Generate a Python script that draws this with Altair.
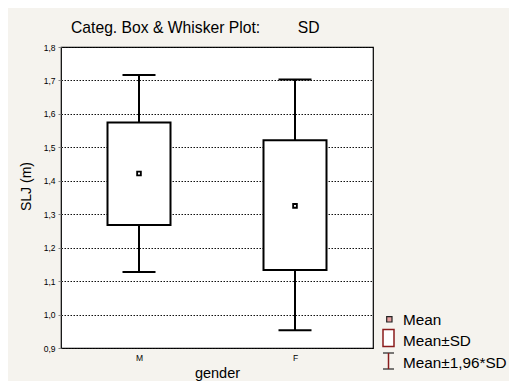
import altair as alt
import pandas as pd

# ---- data ----
genders = ["M", "F"]
means = [1.422, 1.325]
box_low = [1.268, 1.133]      # Mean - SD
box_high = [1.574, 1.521]     # Mean + SD
whisk_low = [1.127, 0.953]    # Mean - 1.96*SD
whisk_high = [1.716, 1.703]   # Mean + 1.96*SD
y_ticks = [0.9, 1.0, 1.1, 1.2, 1.3, 1.4, 1.5, 1.6, 1.7, 1.8]
legend_labels = ["Mean", "Mean±SD", "Mean±1,96*SD"]

df = pd.DataFrame({
    "gender": genders,
    "mean": means,
    "lo": box_low,
    "hi": box_high,
    "wlo": whisk_low,
    "whi": whisk_high,
})

FONT = "Liberation Sans"
x_enc = alt.X(
    "gender:N",
    sort=genders,
    scale=alt.Scale(type="point", padding=0.5),
    axis=alt.Axis(
        title="gender", labelAngle=0, labelFontSize=8.5, labelFont=FONT,
        labelColor="#000", labelPadding=5, ticks=False, domain=False,
        titleFont=FONT, titleFontSize=14.5, titleFontWeight="normal",
        titleColor="#000", titleY=29, titleBaseline="alphabetic",
        grid=False,
    ),
)
y_scale = alt.Scale(domain=[0.9, 1.8], nice=False, zero=False)
y_axis = alt.Axis(
    title="SLJ (m)", values=y_ticks, labelOverlap=False,
    labelExpr="replace(format(datum.value, '.1f'), '.', ',')",
    labelFont=FONT, labelFontSize=8.5, labelColor="#000", labelPadding=3,
    tickSize=3, tickColor="#888", domain=False,
    grid=True, gridColor="#111", gridDash=[1.5, 1.5], gridWidth=1, gridOpacity=1,
    titleFont=FONT, titleFontSize=14, titleFontWeight="normal", titleColor="#000",
    titleAngle=270, titleX=-35, titleY=139, titleAlign="center",
    titleBaseline="middle",
)

def Y(field):
    return alt.Y(field, scale=y_scale, axis=y_axis)

base = alt.Chart(df)

whiskers = base.mark_rule(color="#000", strokeWidth=2).encode(
    x=x_enc, y=Y("wlo:Q"), y2="whi:Q",
)
boxes = base.mark_bar(fill="white", stroke="#000", strokeWidth=2, size=63).encode(
    x=x_enc, y=Y("lo:Q"), y2="hi:Q"
)
cap_lo = base.mark_tick(color="#000", size=33, thickness=2, opacity=1).encode(
    x=x_enc, y=Y("wlo:Q")
)
cap_hi = base.mark_tick(color="#000", size=33, thickness=2, opacity=1).encode(
    x=x_enc, y=Y("whi:Q")
)
mean_pt = base.mark_square(fill="#fff", size=14, opacity=1, stroke="#000",
                           strokeWidth=1.8, filled=False).encode(
    x=x_enc, y=Y("mean:Q")
)

one = alt.Data(values=[{}])
def txt(s, x, y, size=15.7, align="left"):
    return alt.Chart(one).mark_text(
        text=s, font=FONT, fontSize=size, align=align, baseline="alphabetic",
        color="#000"
    ).encode(x=alt.value(x), y=alt.value(y))

title1 = txt("Categ. Box & Whisker Plot:", 10, -14)
title2 = txt("SD", 236.7, -14)

# legend (decoration)
RED = "#8a1c1c"
leg_mean = alt.Chart(one).mark_rect(fill="#e6a0a0", stroke="#222", strokeWidth=1.2).encode(
    x=alt.value(325.7), x2=alt.value(331), y=alt.value(269.7), y2=alt.value(275)
)
leg_box = alt.Chart(one).mark_rect(fill="white", stroke=RED, strokeWidth=1.5).encode(
    x=alt.value(322), x2=alt.value(333), y=alt.value(282.5), y2=alt.value(299.5)
)
leg_i_top = alt.Chart(one).mark_rule(color="#222", strokeWidth=1.2).encode(
    x=alt.value(322), x2=alt.value(333), y=alt.value(306)
)
leg_i_bot = alt.Chart(one).mark_rule(color="#222", strokeWidth=1.2).encode(
    x=alt.value(322), x2=alt.value(333), y=alt.value(322)
)
leg_i_v = alt.Chart(one).mark_rule(color=RED, strokeWidth=1.5).encode(
    x=alt.value(327.5), y=alt.value(306), y2=alt.value(322)
)
leg_t1 = txt(legend_labels[0], 342, 278, size=15.3)
leg_t2 = txt(legend_labels[1], 342, 299, size=15.3)
leg_t3 = txt(legend_labels[2], 342, 320.5, size=15.3)

chart = alt.layer(
    whiskers, boxes, cap_lo, cap_hi, mean_pt,
    title1, title2,
    leg_mean, leg_box, leg_i_top, leg_i_bot, leg_i_v,
    leg_t1, leg_t2, leg_t3,
).properties(
    width=312, height=301,
    background="#f5f3ee",
    padding={"left": 53, "top": 39, "right": 136, "bottom": 33},
    autosize=alt.AutoSizeParams(type="none"),
).configure_view(
    fill="white", stroke="#000", strokeWidth=1.2
)

chart.save("out.html", embed_options={"renderer": "svg", "actions": False})
